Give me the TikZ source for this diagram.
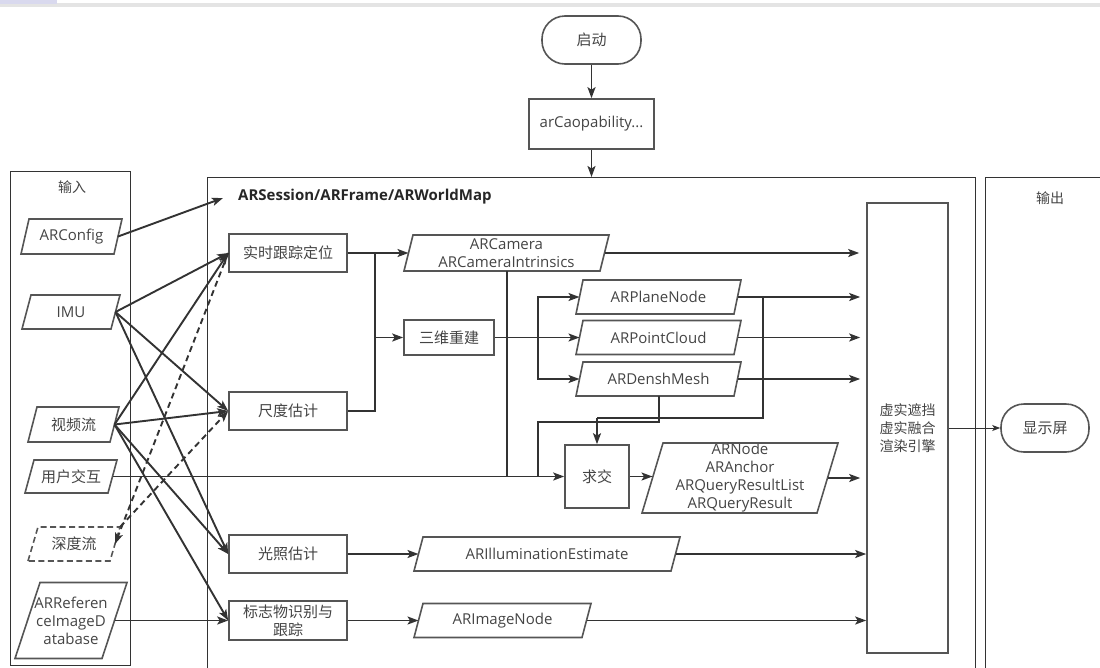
\documentclass[tikz,border=0pt]{standalone}
\usepackage{fontspec}
\setmainfont{Open Sans}
\newfontfamily\cjk{Noto Sans CJK SC}
\usetikzlibrary{arrows.meta,calc}
\definecolor{ln}{HTML}{333333}
\definecolor{bd}{HTML}{555555}
\definecolor{tx}{HTML}{444444}
\definecolor{lav}{HTML}{D9D9EE}
\definecolor{strip}{HTML}{E4E4E4}
\newcommand\mypgram[8]{%
  \node[pgtext] (#1) at ({(#2+#4)/2},{(#3+#5)/2}) [minimum width={#4-#2}, minimum height={#5-#3}] {#8};
  \draw[pgline,#7] (#2,#5) -- ({#2+#6},#3) -- (#4,#3) -- ({#4-#6},#5) -- cycle;
  \coordinate (#1-w) at ({#2+#6/2},{(#3+#5)/2});
  \coordinate (#1-e) at ({#4-#6/2},{(#3+#5)/2});
}
\begin{document}
\begin{tikzpicture}[x=1pt,y=-1pt,
  latin/.style={font=\fontsize{15}{18}\selectfont},
  pgtext/.style={inner sep=0pt, align=center, text=tx, latin},
  pgline/.style={draw=bd, line width=1.6pt},
  box/.style={draw=bd, line width=1.6pt, fill=white, minimum width=118pt, minimum height=38pt,
    inner sep=0pt, align=center, text=tx, font=\cjk\fontsize{15}{18}\selectfont},
  term/.style={box, rounded corners=23pt},
  frame/.style={draw=ln, line width=1pt},
  lab/.style={text=tx, font=\cjk\fontsize{14}{18}\selectfont, align=center},
  conn/.style={draw=ln, line width=1.9pt},
  arr/.style={conn, -{Stealth[length=11pt,width=8pt,inset=2.5pt]}},
  darr/.style={arr, dash pattern=on 6pt off 4pt},
]
\useasboundingbox (0,0) rectangle (1100,667);
\clip (0,0) rectangle (1100,667);
% top strip
\fill[strip] (0,3) rectangle (1100,7);
\fill[lav] (0,0) rectangle (57,4);

% frames
\draw[frame] (10,171) rectangle (130,665);
\draw[frame] (207,177) rectangle (975,720);
\draw[frame] (985,177) rectangle (1120,720);
\node[lab] (inlab) at (72,187) {输入};
\node[lab] (outlab) at (1050,198) {输出};
\node[anchor=west, font=\bfseries\fontsize{15}{18}\selectfont, text=black!85, inner sep=0pt] (title) at (238,197) {ARSession/ARFrame/ARWorldMap};
\coordinate (sessin) at (223,198);
\coordinate (ftop) at (591.5,177);

% top
\node[term, minimum width=99pt, minimum height=48pt] (start) at (591.5,40) {启动};
\node[box, minimum width=125pt, minimum height=50pt, font=\fontsize{15}{18}\selectfont] (arcap) at (591.5,124) {arCaopability...};

% inputs
\mypgram{cfg}{21}{219}{122}{254}{8}{}{ARConfig}
\mypgram{imu}{22}{295}{120}{329}{9}{}{IMU}
\mypgram{vid}{28}{407}{119}{442}{9}{}{\cjk 视频流}
\mypgram{usr}{25}{460}{117}{493}{9}{}{\cjk 用户交互}
\mypgram{dep}{28}{527}{120}{561}{10}{dash pattern=on 6pt off 3.5pt}{\cjk 深度流}
\mypgram{ref}{15}{582.5}{127}{658.5}{25}{}{ARReferen\\ceImageD\\atabase}
\coordinate (dep-ne) at (120,527);

% process boxes
\node[box] (track) at (288,253) {实时跟踪定位};
\node[box] (scale) at (288,411) {尺度估计};
\node[box] (light) at (288,554) {光照估计};
\node[box, minimum height=39pt] (mark) at (288,620.5) {标志物识别与\\跟踪};
\node[box, minimum width=90pt, minimum height=35pt] (recon) at (449,337.5) {三维重建};
\node[box, minimum width=64pt, minimum height=63pt] (inter) at (597,476.5) {求交};

% data
\mypgram{cam}{404}{235}{609}{271}{9}{}{ARCamera\\ARCameraIntrinsics}
\mypgram{plane}{576}{280}{741}{314}{7}{}{ARPlaneNode}
\mypgram{cloud}{576}{320.5}{741}{354.5}{7}{}{ARPointCloud}
\mypgram{mesh}{576}{362}{741}{396}{7}{}{ARDenshMesh}
\mypgram{query}{642}{443}{838}{513}{21}{}{ARNode\\ARAnchor\\ARQueryResultList\\ARQueryResult}
\mypgram{illum}{414}{537}{680}{571}{9}{}{ARIlluminationEstimate}
\mypgram{img}{414}{603.5}{591}{637.5}{9}{}{ARImageNode}

% engine and display
\node[box, minimum width=81pt, minimum height=450pt, font=\cjk\fontsize{14}{18}\selectfont] (eng) at (907.5,428) {虚实遮挡\\虚实融合\\渲染引擎};
\node[term, minimum width=88pt, minimum height=48pt] (disp) at (1045,428) {显示屏};

% top connectors
\draw[arr] (start.south) -- (arcap.north);
\draw[arr] (arcap.south) -- (ftop);

% input connectors
\draw[arr] (cfg-e) -- (sessin);
\draw[arr] (imu-e) -- (track.west);
\draw[arr] (imu-e) -- (scale.west);
\draw[arr] (imu-e) -- (light.west);
\draw[arr] (vid-e) -- (track.west);
\draw[arr] (vid-e) -- (scale.west);
\draw[arr] (vid-e) -- (light.west);
\draw[arr] (vid-e) -- (mark.west);
\draw[darr] (track.west) -- (dep-e);
\draw[darr] (dep-ne) -- (scale.west);
\draw[arr] (ref-e) -- (mark.west);
\draw[arr] (usr-e) -- (inter.west);

% tracking / reconstruction
\coordinate (j1) at (375,253);
\draw[arr] (track.east) -- (cam-w);
\draw[conn] (scale.east) -| (j1);
\draw[arr] (j1) |- (recon.west);
\coordinate (j2) at (538,337.5);
\draw[conn] (recon.east) -- (j2);
\draw[arr] (j2) |- (plane-w);
\draw[arr] (j2) -- (cloud-w);
\draw[arr] (j2) |- (mesh-w);

% intersection feeds
\coordinate (camtop) at (507,271);
\coordinate (camdown) at (507,476.5);
\draw[conn] (camtop) -- (camdown);
\coordinate (m1) at (659,396);
\coordinate (m2) at (659,422);
\coordinate (m3) at (538,422);
\coordinate (m4) at (538,476.5);
\draw[conn] (m1) -- (m2) -- (m3) -- (m4);
\coordinate (p1) at (763,297);
\coordinate (p2) at (763,418);
\coordinate (p3) at (597,418);
\draw[conn] (p1) -- (p2) -- (p3);
\draw[arr] (p3) -- (inter.north);
\draw[arr] (inter.east) -- (inter.east -| query-w);

% to engine
\draw[arr, shorten >=7pt] (cam-e) -- (cam-e -| eng.west);
\draw[arr, shorten >=6pt] (plane-e) -- (plane-e -| eng.west);
\draw[arr, shorten >=6pt] (cloud-e) -- (cloud-e -| eng.west);
\draw[arr, shorten >=6pt] (mesh-e) -- (mesh-e -| eng.west);
\draw[arr, shorten >=6pt] (query-e) -- (query-e -| eng.west);
\draw[arr] (light.east) -- (illum-w);
\draw[arr] (illum-e) -- (illum-e -| eng.west);
\draw[arr] (mark.east) -- (img-w);
\draw[arr] (img-e) -- (img-e -| eng.west);
\draw[draw=ln, line width=0.9pt, -{Stealth[length=8pt,width=6pt,inset=2pt]}] (eng.east) -- (disp.west);
\end{tikzpicture}
\end{document}
